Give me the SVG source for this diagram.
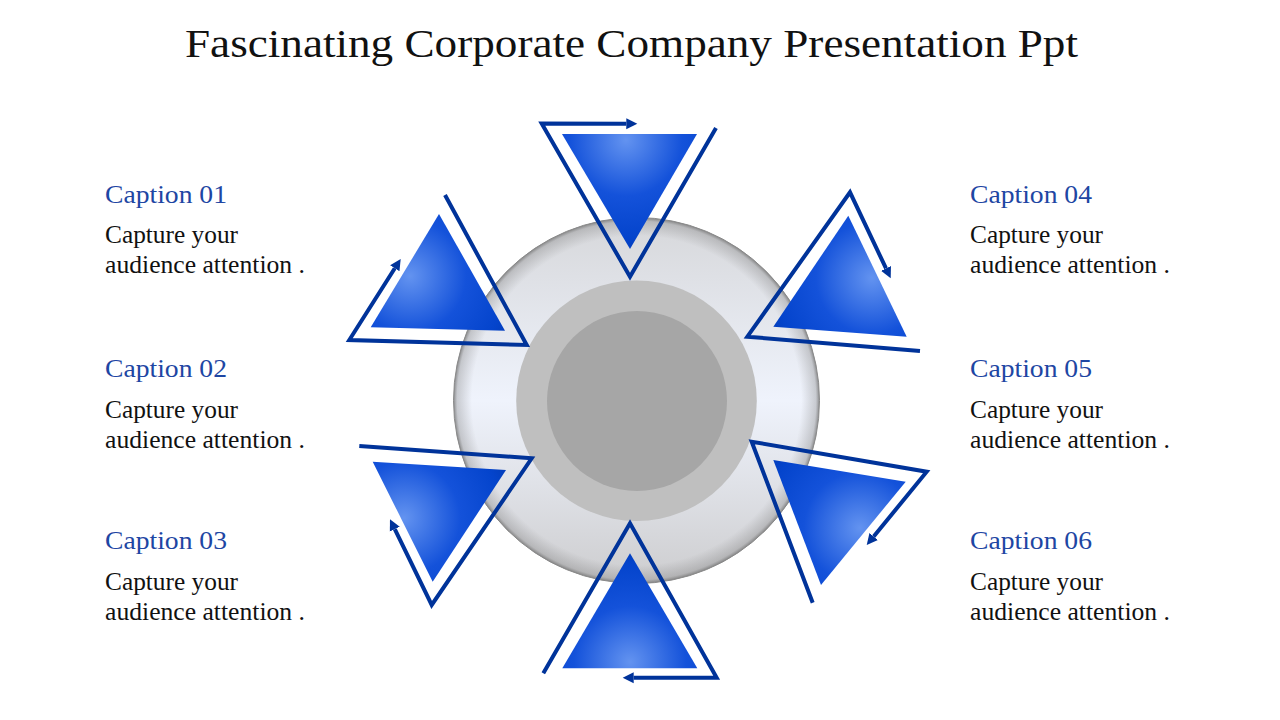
<svg xmlns="http://www.w3.org/2000/svg" width="1280" height="720" viewBox="0 0 1280 720">
<style>
.title{font-family:"Liberation Serif","DejaVu Serif",serif;font-size:41px;fill:#111}
.cap{font-family:"Liberation Serif","DejaVu Serif",serif;font-size:26px;fill:#1E46A3}
.body{font-family:"Liberation Serif","DejaVu Serif",serif;font-size:25px;fill:#111}
.outline{fill:none;stroke:#00339A;stroke-width:4;stroke-linejoin:miter;marker-end:url(#ah)}
</style>
<defs>
<marker id="ah" viewBox="0 -6 12 12" refX="0" refY="0" markerWidth="12" markerHeight="12" markerUnits="userSpaceOnUse" orient="auto">
<path d="M0,-5.5 L11,0 L0,5.5 Z" fill="#00339A"/>
</marker>
<linearGradient id="gDisc" x1="0" y1="0" x2="0" y2="1">
<stop offset="0" stop-color="#D6D7DA"/>
<stop offset="0.5" stop-color="#EFF3FC"/>
<stop offset="1" stop-color="#CDCDCF"/>
</linearGradient>
<radialGradient id="gRim" cx="0.5" cy="0.5" r="0.5">
<stop offset="0.9" stop-color="#808080" stop-opacity="0"/>
<stop offset="0.98" stop-color="#808080" stop-opacity="0.35"/>
<stop offset="1" stop-color="#707070" stop-opacity="0.8"/>
</radialGradient>
<radialGradient id="gT" gradientUnits="userSpaceOnUse" cx="626" cy="140" r="140">
<stop offset="0" stop-color="#6393F0"/><stop offset="0.4" stop-color="#1452DA"/><stop offset="0.7" stop-color="#0444CC"/><stop offset="1" stop-color="#00319C"/>
</radialGradient>
<radialGradient id="gUL" gradientUnits="userSpaceOnUse" cx="410" cy="276" r="140">
<stop offset="0" stop-color="#6393F0"/><stop offset="0.4" stop-color="#1452DA"/><stop offset="0.7" stop-color="#0444CC"/><stop offset="1" stop-color="#00319C"/>
</radialGradient>
<radialGradient id="gUR" gradientUnits="userSpaceOnUse" cx="872" cy="278" r="140">
<stop offset="0" stop-color="#6393F0"/><stop offset="0.4" stop-color="#1452DA"/><stop offset="0.7" stop-color="#0444CC"/><stop offset="1" stop-color="#00319C"/>
</radialGradient>
<radialGradient id="gLL" gradientUnits="userSpaceOnUse" cx="404" cy="518" r="140">
<stop offset="0" stop-color="#6393F0"/><stop offset="0.4" stop-color="#1452DA"/><stop offset="0.7" stop-color="#0444CC"/><stop offset="1" stop-color="#00319C"/>
</radialGradient>
<radialGradient id="gLR" gradientUnits="userSpaceOnUse" cx="860" cy="528" r="140">
<stop offset="0" stop-color="#6393F0"/><stop offset="0.4" stop-color="#1452DA"/><stop offset="0.7" stop-color="#0444CC"/><stop offset="1" stop-color="#00319C"/>
</radialGradient>
<radialGradient id="gB" gradientUnits="userSpaceOnUse" cx="630" cy="662" r="140">
<stop offset="0" stop-color="#6393F0"/><stop offset="0.4" stop-color="#1452DA"/><stop offset="0.7" stop-color="#0444CC"/><stop offset="1" stop-color="#00319C"/>
</radialGradient>
</defs>
<rect width="1280" height="720" fill="#FFFFFF"/>
<text id="title" class="title" x="185" y="57" textLength="893" lengthAdjust="spacingAndGlyphs">Fascinating Corporate Company Presentation Ppt</text>

<g id="hub">
<circle cx="636.5" cy="400.5" r="183" fill="url(#gDisc)"/>
<circle cx="636.5" cy="400.5" r="183" fill="url(#gRim)"/>
<circle cx="636.5" cy="400.5" r="183" fill="none" stroke="#8A8A8A" stroke-width="1"/>
<circle cx="636.5" cy="400.7" r="120.3" fill="#BFBFBF"/>
<circle cx="637" cy="401" r="90" fill="#A6A6A6"/>
</g>

<g id="tri-top"><path d="M562,134 L697,134 L630,249 Z" fill="url(#gT)"/></g>
<g id="tri-upper-left"><path d="M439,214 L370.7,327.3 L505,330.7 Z" fill="url(#gUL)"/></g>
<g id="tri-upper-right"><path d="M848.3,215.7 L773.3,326.7 L906.7,336.7 Z" fill="url(#gUR)"/></g>
<g id="tri-lower-left"><path d="M372.7,461.7 L506,470 L432.7,581.7 Z" fill="url(#gLL)"/></g>
<g id="tri-lower-right"><path d="M773.3,460 L905.7,481.7 L821,585 Z" fill="url(#gLR)"/></g>
<g id="tri-bottom"><path d="M630,553.3 L562.3,668.3 L697.3,668.3 Z" fill="url(#gB)"/></g>

<g id="connectors">
<path class="outline" d="M716,128 L630,276.7 L541.7,123.5 L626.3,123.8"/>
<path class="outline" d="M445,195 L526.7,345 L349.3,340 L394.8,268.3"/>
<path class="outline" d="M920,351 L747.3,336.7 L850,192.3 L886,268.4"/>
<path class="outline" d="M359.3,446 L531.7,458.3 L431.7,605 L394.8,529.2"/>
<path class="outline" d="M812.7,602.7 L751.7,441.7 L926.7,471.7 L873.7,536.5"/>
<path class="outline" d="M543.3,673.3 L630,523.3 L716.7,677.7 L633.7,677.7"/>
</g>

<g id="caption-01">
<text class="cap" x="105" y="203.3" textLength="122" lengthAdjust="spacingAndGlyphs">Caption 01</text>
<text class="body" x="105" y="243.3" textLength="133" lengthAdjust="spacingAndGlyphs">Capture your</text>
<text class="body" x="105" y="273.3" textLength="200" lengthAdjust="spacingAndGlyphs">audience attention .</text>
</g>
<g id="caption-02">
<text class="cap" x="105" y="376.5" textLength="122" lengthAdjust="spacingAndGlyphs">Caption 02</text>
<text class="body" x="105" y="417.5" textLength="133" lengthAdjust="spacingAndGlyphs">Capture your</text>
<text class="body" x="105" y="447.5" textLength="200" lengthAdjust="spacingAndGlyphs">audience attention .</text>
</g>
<g id="caption-03">
<text class="cap" x="105" y="549" textLength="122" lengthAdjust="spacingAndGlyphs">Caption 03</text>
<text class="body" x="105" y="589.5" textLength="133" lengthAdjust="spacingAndGlyphs">Capture your</text>
<text class="body" x="105" y="619.5" textLength="200" lengthAdjust="spacingAndGlyphs">audience attention .</text>
</g>
<g id="caption-04">
<text class="cap" x="970" y="203.3" textLength="122" lengthAdjust="spacingAndGlyphs">Caption 04</text>
<text class="body" x="970" y="243.3" textLength="133" lengthAdjust="spacingAndGlyphs">Capture your</text>
<text class="body" x="970" y="273.3" textLength="200" lengthAdjust="spacingAndGlyphs">audience attention .</text>
</g>
<g id="caption-05">
<text class="cap" x="970" y="376.5" textLength="122" lengthAdjust="spacingAndGlyphs">Caption 05</text>
<text class="body" x="970" y="417.5" textLength="133" lengthAdjust="spacingAndGlyphs">Capture your</text>
<text class="body" x="970" y="447.5" textLength="200" lengthAdjust="spacingAndGlyphs">audience attention .</text>
</g>
<g id="caption-06">
<text class="cap" x="970" y="549" textLength="122" lengthAdjust="spacingAndGlyphs">Caption 06</text>
<text class="body" x="970" y="589.5" textLength="133" lengthAdjust="spacingAndGlyphs">Capture your</text>
<text class="body" x="970" y="619.5" textLength="200" lengthAdjust="spacingAndGlyphs">audience attention .</text>
</g>
</svg>
